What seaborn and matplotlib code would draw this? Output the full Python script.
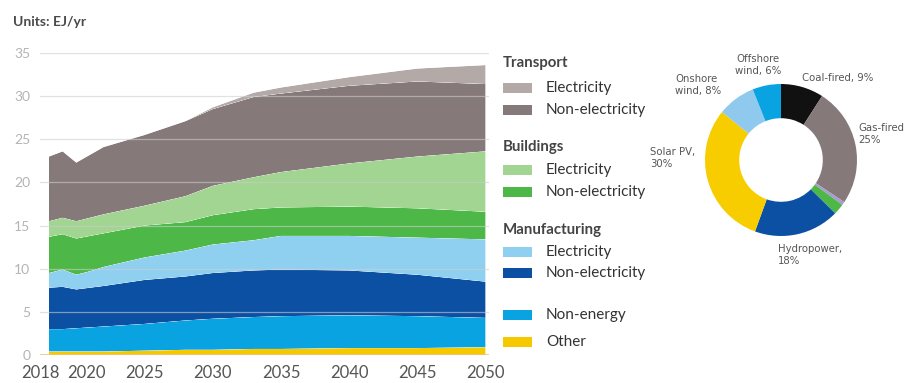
import numpy as np
import pandas as pd
import matplotlib
matplotlib.use("Agg")
import matplotlib.pyplot as plt
import matplotlib.transforms as mtransforms
from matplotlib.patches import Rectangle
import seaborn as sns
import seaborn.objects as so

# ---- data: final energy by sector (EJ/yr), stacked bottom to top ----
years = [2018, 2019, 2020, 2021, 2022, 2025, 2028, 2030, 2033, 2035, 2040, 2045, 2050]
other = [0.4, 0.4, 0.4, 0.4, 0.4, 0.5, 0.6, 0.6, 0.7, 0.7, 0.8, 0.8, 0.9]
non_energy = [2.6, 2.6, 2.7, 2.8, 2.9, 3.1, 3.4, 3.6, 3.7, 3.8, 3.8, 3.7, 3.4]
mfg_non_elec = [4.8, 4.9, 4.5, 4.6, 4.7, 5.1, 5.1, 5.3, 5.4, 5.4, 5.2, 4.8, 4.2]
mfg_elec = [1.7, 2.0, 1.7, 1.9, 2.2, 2.6, 3.0, 3.3, 3.5, 3.9, 4.0, 4.3, 4.9]
bld_non_elec = [4.2, 4.1, 4.2, 4.1, 3.9, 3.7, 3.3, 3.4, 3.6, 3.3, 3.4, 3.4, 3.2]
bld_elec = [1.8, 1.9, 2.0, 2.1, 2.2, 2.3, 3.0, 3.4, 3.7, 4.1, 5.0, 6.0, 7.0]
trn_non_elec = [7.5, 7.7, 6.8, 7.3, 7.8, 8.2, 8.7, 8.9, 9.3, 9.1, 9.0, 8.7, 7.8]
trn_elec = [0.0, 0.0, 0.0, 0.0, 0.0, 0.0, 0.0, 0.2, 0.5, 0.7, 1.0, 1.5, 2.2]

layer_names = ["Other", "Non-energy", "Manufacturing non-electricity",
               "Manufacturing electricity", "Buildings non-electricity",
               "Buildings electricity", "Transport non-electricity",
               "Transport electricity"]
layer_values = [other, non_energy, mfg_non_elec, mfg_elec, bld_non_elec,
                bld_elec, trn_non_elec, trn_elec]
layer_colors = ["#f5c800", "#0aa3e2", "#0c50a3", "#8fd0f1", "#4db848",
                "#a2d492", "#857a79", "#b3aaa8"]

x_ticks = [2018, 2020, 2025, 2030, 2035, 2040, 2045, 2050]
y_ticks = [0, 5, 10, 15, 20, 25, 30, 35]

# ---- data: electricity generation mix (%) ----
mix_names = ["Coal-fired", "Gas-fired", "Nuclear", "Bioenergy", "Hydropower",
             "Solar PV", "Onshore wind", "Offshore wind"]
mix_share = [9, 25, 0.7, 2.3, 18, 30, 8, 6]
mix_colors = ["#111111", "#857a79", "#a99ad0", "#4db848", "#0c50a3",
              "#f7cd00", "#8fcaee", "#0aa3e2"]

# long-format table, rows ordered bottom layer first so Stack builds upward
rows = []
for name, vals in zip(layer_names, layer_values):
    for yr, v in zip(years, vals):
        rows.append({"year": yr, "energy": v, "layer": name})
df = pd.DataFrame(rows)

sns.set_theme(style="white")
plt.rcParams["font.family"] = ["Lato", "DejaVu Sans"]

W, H = 909, 383
fig = plt.figure(figsize=(W / 100, H / 100), dpi=100)


def fx(px):
    return px / W


def fy(py):
    return 1 - py / H


ax = fig.add_axes([40 / W, 28 / H, 449 / W, 302 / H])

(
    so.Plot(df, x="year", y="energy", color="layer")
    .add(so.Area(alpha=1, edgewidth=0), so.Stack(), legend=False)
    .scale(color=so.Nominal(dict(zip(layer_names, layer_colors)), order=layer_names))
    .on(ax)
    .plot()
)

ax.set_xlim(2017.34, 2050.25)
ax.set_ylim(0, 35)
ax.set_xlabel("")
ax.set_ylabel("")
for s in ax.spines.values():
    s.set_visible(False)
ax.grid(False)

# gridlines sit over the areas, faintly
for yv in y_ticks[1:]:
    ax.axhline(yv, color="#cdcdcd", lw=0.9, alpha=0.6, zorder=10)
ax.axhline(0, color="#f2c47a", lw=1.2, zorder=10)

ax.set_yticks(y_ticks)
ax.set_yticklabels([str(v) for v in y_ticks], color="#b4b4b4", fontsize=10)
ax.set_xticks(x_ticks)
ax.set_xticklabels([str(v) for v in x_ticks], color="#555555", fontsize=12)
ax.tick_params(axis="y", length=0, pad=7)
ax.tick_params(axis="x", length=0, pad=7)

# nudge the two crowded year labels apart
shifts = {0: -9, 1: 10}
for i, lab in enumerate(ax.get_xticklabels()):
    if i in shifts:
        lab.set_transform(lab.get_transform() +
                          mtransforms.ScaledTranslation(shifts[i] / 100, 0,
                                                        fig.dpi_scale_trans))

fig.text(fx(13), fy(22), "Units: EJ/yr", fontsize=10, fontweight="bold",
         color="#4a4a4a", va="center", ha="left")

# ---- legend ----
col = dict(zip(layer_names, layer_colors))
legend_items = [
    ("head", "Transport", 63, None),
    ("item", "Electricity", 88, col["Transport electricity"]),
    ("item", "Non-electricity", 110, col["Transport non-electricity"]),
    ("head", "Buildings", 147, None),
    ("item", "Electricity", 170, col["Buildings electricity"]),
    ("item", "Non-electricity", 192, col["Buildings non-electricity"]),
    ("head", "Manufacturing", 230, None),
    ("item", "Electricity", 252, col["Manufacturing electricity"]),
    ("item", "Non-electricity", 273, col["Manufacturing non-electricity"]),
    ("item", "Non-energy", 315, col["Non-energy"]),
    ("item", "Other", 342, col["Other"]),
]
for kind, text, ypx, c in legend_items:
    if kind == "head":
        fig.text(fx(503), fy(ypx), text, fontsize=10.8, fontweight="bold",
                 color="#444444", va="center", ha="left")
    else:
        fig.add_artist(Rectangle((fx(503), fy(ypx + 5)), 29 / W, 10 / H,
                                 transform=fig.transFigure, color=c, lw=0))
        fig.text(fx(546), fy(ypx), text, fontsize=11, color="#333333",
                 va="center", ha="left")

# ---- donut ----
cx, cy, r = 781, 160, 76
pax = fig.add_axes([(cx - r) / W, 1 - (cy + r) / H, 2 * r / W, 2 * r / H])
pax.pie(mix_share, colors=mix_colors, startangle=90, counterclock=False,
        wedgeprops=dict(width=0.45, linewidth=0))
pax.set_xlim(-1, 1)
pax.set_ylim(-1, 1)
pax.set_aspect("equal")
pax.axis("off")

share = dict(zip(mix_names, mix_share))
donut_labels = [
    (f"Offshore\nwind, {share['Offshore wind']:g}%", 758, 65, "center"),
    (f"Coal-fired, {share['Coal-fired']:g}%", 802, 78, "left"),
    (f"Onshore\nwind, {share['Onshore wind']:g}%", 675, 85, "left"),
    (f"Gas-fired\n{share['Gas-fired']:g}%", 858, 134, "left"),
    (f"Solar PV,\n{share['Solar PV']:g}%", 650, 158, "left"),
    (f"Hydropower,\n{share['Hydropower']:g}%", 778, 255, "left"),
]
for text, xp, yp, ha in donut_labels:
    fig.text(fx(xp), fy(yp), text, fontsize=7.3, color="#555555",
             va="center", ha=ha, linespacing=1.15,
             family=["DejaVu Sans"])

fig.savefig("out.png", dpi=100)
